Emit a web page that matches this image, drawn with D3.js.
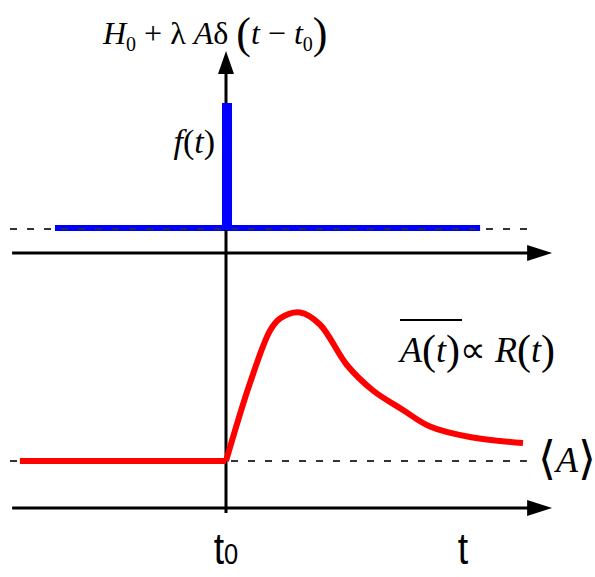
<!DOCTYPE html>
<html>
<head>
<meta charset="utf-8">
<script src="https://cdn.jsdelivr.net/npm/d3@7"></script>
<style>
  body { margin: 0; background: #fff; }
  svg { display: block; }
</style>
</head>
<body>
<div id="chart"></div>
<script>
// time axis in arbitrary units, pulse at t0 = 0
var axisT = [-7.13, 10.87];
var fieldT = [-5.7, 8.47];          // extent of the field f(t)
var pulseT = 0, pulseH = 1;         // the delta kick
var respT = [-6.87, 0, 0.8, 1.47, 1.8, 2.47, 3.13, 4.03, 4.9, 5.9, 6.8, 8.13, 9.9];
var respA = [0, 0, 0.52, 0.87, 0.95, 0.99, 0.91, 0.64, 0.47, 0.34, 0.23, 0.16, 0.12];
var tickT = [0, 7.9];
var tickText = ['t', 't'];
var tickSub = ['0', ''];

(function () {
    var width = 595, height = 577;
    var svg = d3.select('#chart').append('svg')
        .attr('width', width).attr('height', height);

    var x = d3.scaleLinear().domain([-7, 11]).range([16, 556]);
    var yF = d3.scaleLinear().domain([0, 1]).range([228, 103]);   // upper panel
    var yA = d3.scaleLinear().domain([0, 1]).range([461, 311]);   // lower panel

    var serif = "'Liberation Serif', 'Times New Roman', serif";
    var sans = "'Liberation Sans', Arial, sans-serif";

    var axisTop = yF(-0.2), axisBot = yA(-0.313);
    var x0 = x(pulseT);

    // reference dashed lines (H0 and <A>)
    svg.append('line').attr('class', 'ref')
        .attr('x1', x(-7.2)).attr('x2', x(10.13))
        .attr('y1', yF(0) + 1).attr('y2', yF(0) + 1);
    svg.append('line').attr('class', 'ref')
        .attr('x1', x(-7.2)).attr('x2', x(10.03))
        .attr('y1', yA(0)).attr('y2', yA(0));

    // field f(t)
    svg.append('line')
        .attr('x1', x(fieldT[0])).attr('x2', x(fieldT[1]))
        .attr('y1', yF(0)).attr('y2', yF(0))
        .attr('stroke', '#0000ff').attr('stroke-width', 6);

    // dashed H0 drawn again on top of the blue baseline
    svg.append('line').attr('class', 'ref')
        .attr('x1', x(-7.2)).attr('x2', x(fieldT[1]))
        .attr('y1', yF(0) + 1).attr('y2', yF(0) + 1)
        .attr('stroke-opacity', 0.6);

    svg.selectAll('.ref')
        .attr('stroke', '#333').attr('stroke-width', 2.2)
        .attr('stroke-dasharray', '7,10');

    // axes
    var ax = svg.append('g').attr('stroke', '#000').attr('stroke-width', 3);
    ax.append('line').attr('x1', x0).attr('x2', x0).attr('y1', axisBot + 5).attr('y2', 70);
    ax.append('line').attr('x1', x(axisT[0])).attr('x2', x(axisT[1]) - 10).attr('y1', axisTop).attr('y2', axisTop);
    ax.append('line').attr('x1', x(axisT[0])).attr('x2', x(axisT[1]) - 10).attr('y1', axisBot).attr('y2', axisBot);

    var xe = x(axisT[1]);
    svg.append('path').attr('d', 'M' + xe + ',' + axisTop + 'L' + (xe - 25) + ',' + (axisTop - 8) + 'L' + (xe - 25) + ',' + (axisTop + 8) + 'Z');
    svg.append('path').attr('d', 'M' + xe + ',' + axisBot + 'L' + (xe - 25) + ',' + (axisBot - 8) + 'L' + (xe - 25) + ',' + (axisBot + 8) + 'Z');
    svg.append('path').attr('d', 'M' + x0 + ',51L' + (x0 - 8) + ',74L' + (x0 + 8) + ',74Z');

    // blue spike covers the axis
    svg.append('rect')
        .attr('x', x0 - 4).attr('width', 10)
        .attr('y', yF(pulseH)).attr('height', yF(0) - yF(pulseH) + 2)
        .attr('fill', '#0000ff');

    // response: flat part then smooth relaxation
    var pts = respT.map(function (t, i) { return [t, respA[i]]; });
    var line = d3.line().x(function (d) { return x(d[0]); }).y(function (d) { return yA(d[1]); });
    svg.append('path')
        .datum(pts.slice(0, 2))
        .attr('d', line)
        .attr('fill', 'none').attr('stroke', '#ff0000').attr('stroke-width', 6);
    svg.append('path')
        .datum(pts.slice(1))
        .attr('d', line.curve(d3.curveCatmullRom.alpha(0.5)))
        .attr('fill', 'none')
        .attr('stroke', '#ff0000')
        .attr('stroke-width', 6)
        .attr('stroke-linejoin', 'round');

    // tick labels
    tickT.forEach(function (t, i) {
        var tx = svg.append('text')
            .attr('x', x(t)).attr('y', 564)
            .attr('text-anchor', 'middle')
            .style('font-family', sans).style('font-size', '44px')
            .attr('transform', 'translate(' + x(t) + ',0) scale(0.85,1) translate(' + (-x(t)) + ',0)')
            .text(tickText[i]);
        if (tickSub[i]) tx.append('tspan').style('font-size', '30px').text(tickSub[i]);
    });

    // math labels
    var top = svg.append('text').attr('x', 103).attr('y', 44)
        .style('font-family', serif).style('font-size', '32px');
    top.append('tspan').style('font-style', 'italic').text('H');
    top.append('tspan').style('font-size', '20px').attr('dy', 7).text('0');
    top.append('tspan').attr('dy', -7).text(' + λ ');
    top.append('tspan').style('font-style', 'italic').text('A');
    top.append('tspan').text('δ ');
    top.append('tspan').style('font-size', '44px').attr('dy', 4).text('(');
    top.append('tspan').style('font-style', 'italic').attr('dy', -4).text('t');
    top.append('tspan').text(' − ');
    top.append('tspan').style('font-style', 'italic').text('t');
    top.append('tspan').style('font-size', '20px').attr('dy', 7).text('0');
    top.append('tspan').style('font-size', '44px').attr('dy', -3).text(')');

    var ft = svg.append('text').attr('x', 215).attr('y', 153)
        .attr('text-anchor', 'end')
        .style('font-family', serif).style('font-size', '34px');
    ft.append('tspan').style('font-style', 'italic').text('f');
    ft.append('tspan').text('(');
    ft.append('tspan').style('font-style', 'italic').text('t');
    ft.append('tspan').text(')');

    var rt = svg.append('text').attr('x', 400).attr('y', 362)
        .style('font-family', serif).style('font-size', '36px');
    rt.append('tspan').style('font-style', 'italic').text('A');
    rt.append('tspan').style('font-size', '42px').attr('dy', 2).text('(');
    rt.append('tspan').style('font-style', 'italic').attr('dy', -2).text('t');
    rt.append('tspan').style('font-size', '42px').attr('dy', 2).text(')');
    rt.append('tspan').attr('dy', -2).text('∝ ');
    rt.append('tspan').style('font-style', 'italic').text('R');
    rt.append('tspan').style('font-size', '42px').attr('dy', 2).text('(');
    rt.append('tspan').style('font-style', 'italic').attr('dy', -2).text('t');
    rt.append('tspan').style('font-size', '42px').attr('dy', 2).text(')');
    svg.append('line').attr('x1', 400).attr('x2', 462).attr('y1', 320).attr('y2', 320)
        .attr('stroke', '#000').attr('stroke-width', 2);

    var av = svg.append('text').attr('x', 538).attr('y', 472)
        .style('font-family', serif).style('font-size', '36px');
    av.append('tspan').style('font-size', '46px').attr('dy', 2).text('⟨');
    av.append('tspan').style('font-style', 'italic').attr('dy', -2).text('A');
    av.append('tspan').style('font-size', '46px').attr('dy', 2).text('⟩');
}());
</script>
</body>
</html>
